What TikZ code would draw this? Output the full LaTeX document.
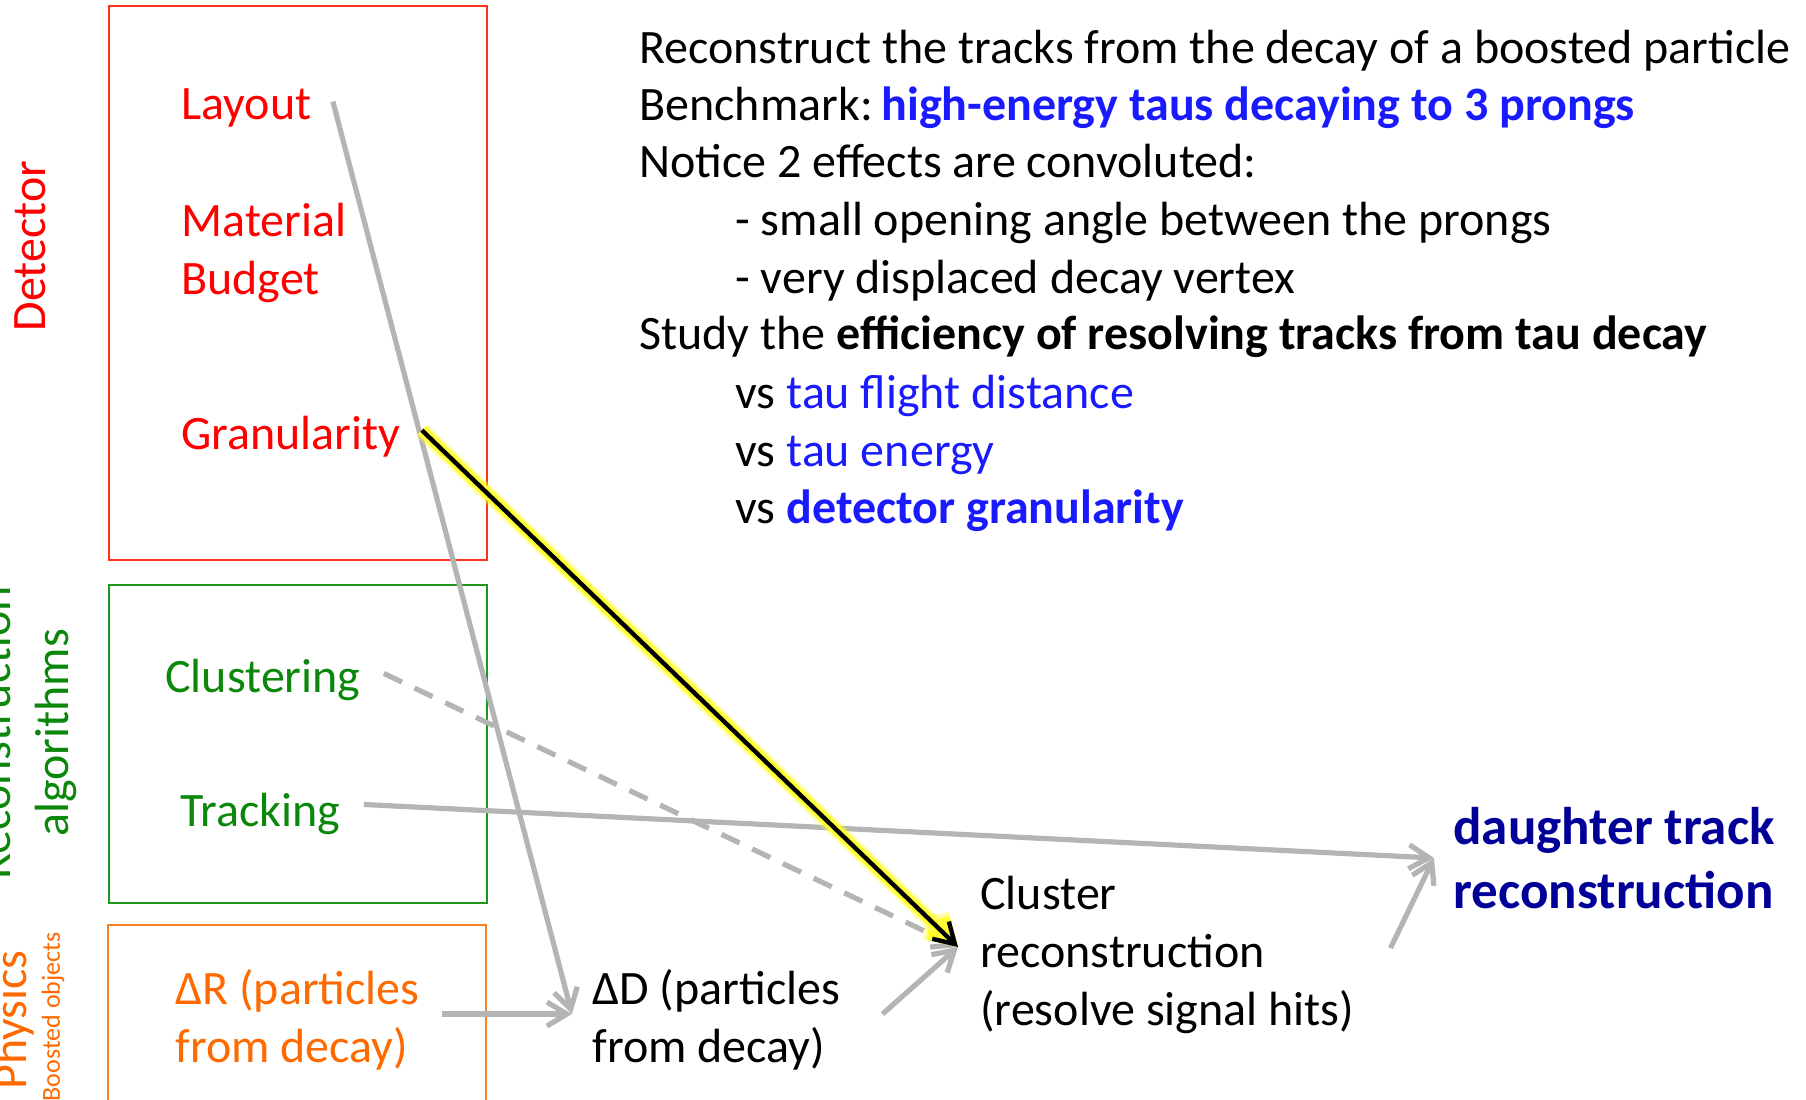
\documentclass[tikz,border=0pt]{standalone}
\usepackage{fontspec}
\setmainfont{Carlito}
\usetikzlibrary{arrows.meta}

\definecolor{detred}{HTML}{FF0000}
\definecolor{detbox}{HTML}{FF3319}
\definecolor{recgreen}{HTML}{0B870B}
\definecolor{recbox}{HTML}{1E961E}
\definecolor{physorange}{HTML}{FF6A00}
\definecolor{physbox}{HTML}{F58220}
\definecolor{tblue}{HTML}{1A1AFF}
\definecolor{navy}{HTML}{000099}
\definecolor{linkgray}{HTML}{B4B4B4}
\definecolor{glow}{HTML}{FFFF33}

\begin{document}
\begin{tikzpicture}[x=0.5pt,y=-0.5pt,
    txt/.style={inner sep=0pt, anchor=base west, font=\fontsize{24}{28.8}\selectfont},
    multi/.style={inner sep=0pt, anchor=west, align=left, font=\fontsize{24}{28.8}\selectfont},
    side/.style={inner sep=0pt, rotate=90, font=\fontsize{24}{28.8}\selectfont},
    barb/.style={-{Straight Barb[length=10pt,width=12pt]}},
    link/.style={draw=linkgray, line width=2.6pt, barb}]
	\useasboundingbox (0,0) rectangle (1806,1099);
	\clip (0,0) rectangle (1806,1099);

	% Kästen links
	\draw[detbox, line width=0.8pt] (109,6) rectangle (487,560);
	\draw[recbox, line width=0.8pt] (109,585) rectangle (487,903);
	\draw[physbox, line width=0.8pt] (108,925) rectangle (486,1120);

	% senkrechte Titel
	\node[side, anchor=base, text=detred] (det) at (46,246) {Detector};
	\node[side, anchor=south, align=center, text=recgreen] (rec) at (77,733) {Reconstruction\\algorithms};
	\node[side, anchor=base east, text=physorange] (phys) at (26,950) {Physics};
	\node[side, anchor=base east, text=physorange, font=\fontsize{13}{15}\selectfont] (boost) at (60,932) {Boosted objects};

	% Einträge in den Kästen
	\node[txt, text=detred] (lay) at (181,119) {Layout};
	\node[multi, text=detred] (mat) at (181,253) {Material\\Budget};
	\node[txt, text=detred] (gran) at (181,449) {Granularity};
	\node[txt, text=recgreen] (clus) at (165,692) {Clustering};
	\node[txt, text=recgreen] (trk) at (180,826) {Tracking};
	\node[multi, text=physorange] (dR) at (175,1020) {ΔR (particles\\from decay)};

	% Kette rechts
	\node[multi] (dD) at (592,1020) {ΔD (particles\\from decay)};
	\node[multi] (clu) at (980,955) {Cluster\\reconstruction\\(resolve signal hits)};
	\node[multi, text=navy, font=\fontsize{26.5}{32}\selectfont\bfseries] (dau) at (1453,858) {daughter track\\reconstruction};

	% Text oben rechts
	\node[txt] (l1) at (639,63) {Reconstruct the tracks from the decay of a boosted particle};
	\node[txt] (l2) at (639,120) {Benchmark:\hspace{0.18em}\textcolor{tblue}{\bfseries high-energy taus decaying to 3 prongs}};
	\node[txt] (l3) at (639,177) {Notice 2 effects are convoluted:};
	\node[txt] (l4) at (735,235) {- small opening angle between the prongs};
	\node[txt] (l5) at (735,293) {- very displaced decay vertex};
	\node[txt] (l6) at (639,349) {Study the \textbf{efficiency of resolving tracks from tau decay}};
	\node[txt] (l7) at (735,408) {vs \textcolor{tblue}{tau flight distance}};
	\node[txt] (l8) at (735,466) {vs \textcolor{tblue}{tau energy}};
	\node[txt] (l9) at (735,523) {vs \textcolor{tblue}{\bfseries detector granularity}};

	% Pfeilenden
	\coordinate (dDin) at ([xshift=-10pt,yshift=3pt]dD.west);
	\coordinate (cluin) at ([xshift=-11pt,yshift=4pt]clu.west);
	\coordinate (dauin) at ([xshift=-9.5pt]dau.west);
	\coordinate (dRout) at ([xshift=11pt]dR.east);

	% graue Pfeile
	\draw[link] ([xshift=10.5pt,yshift=3pt]lay.east) -- (dDin);
	\draw[link] (dRout |- dDin) -- (dDin);
	\draw[link] ([xshift=21pt,yshift=3pt]dD.east) -- (cluin);
	\draw[link] ([xshift=18pt,yshift=3.5pt]clu.east) -- (dauin);
	\draw[link] ([xshift=11.5pt,yshift=4.5pt]trk.east) -- (dauin);
	\draw[link, dash pattern=on 10pt off 7pt] ([xshift=11.5pt,yshift=3pt]clus.east) -- (cluin);

	% hervorgehobener Pfeil
	\draw[glow, opacity=0.4, line width=8pt, barb] ([xshift=10.5pt,yshift=3pt]gran.east) -- (cluin);
	\draw[glow, line width=5.5pt, barb] ([xshift=10.5pt,yshift=3pt]gran.east) -- (cluin);
	\draw[black, line width=2.2pt, barb] ([xshift=10.5pt,yshift=3pt]gran.east) -- (cluin);
\end{tikzpicture}
\end{document}
